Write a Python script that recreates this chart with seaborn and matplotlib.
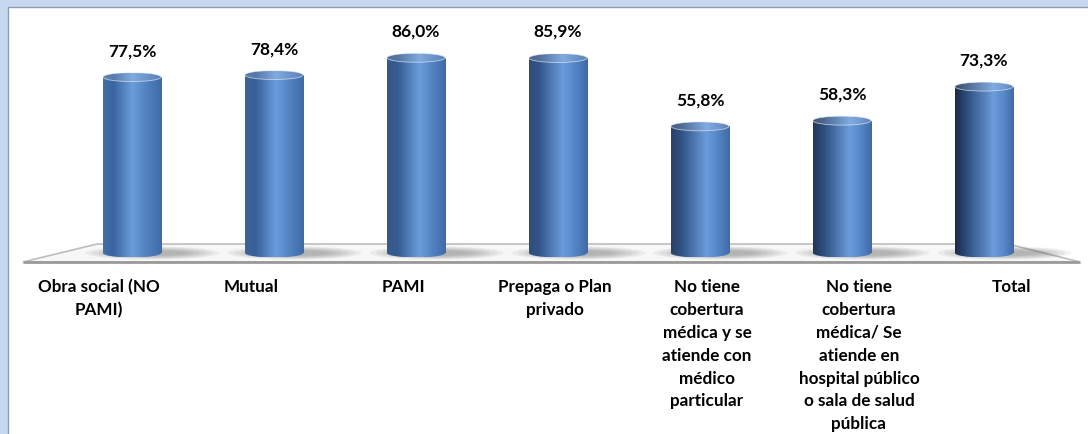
import numpy as np
import pandas as pd
import matplotlib
matplotlib.use("Agg")
import matplotlib.pyplot as plt
import seaborn as sns
from matplotlib.patches import Ellipse, Rectangle, Polygon
from matplotlib.colors import LinearSegmentedColormap, to_rgb

categories = [
    "Obra social (NO\nPAMI)",
    "Mutual",
    "PAMI",
    "Prepaga o Plan\nprivado",
    "No tiene\ncobertura\nmédica y se\natiende con\nmédico\nparticular",
    "No tiene\ncobertura\nmédica/ Se\natiende en\nhospital público\no sala de salud\npública",
    "Total",
]
values = [77.5, 78.4, 86.0, 85.9, 55.8, 58.3, 73.3]
value_labels = ["77,5%", "78,4%", "86,0%", "85,9%", "55,8%", "58,3%", "73,3%"]

sns.set_style("white")
plt.rcParams["font.family"] = ["Lato", "DejaVu Sans"]

W, H = 1088, 434
PX_UNIT = 142.0      # pixels per category slot
PY_UNIT = 2.27       # pixels per percentage point
X0, BASE = 132.0, 253.0

fig = plt.figure(figsize=(W / 100, H / 100), dpi=100)
fig.patch.set_facecolor("#c6d9f1")
fig.patches.append(Rectangle((8 / W, -0.1), 1.2, 1.1 - 7 / H, transform=fig.transFigure,
                             facecolor="white", edgecolor="#8d9db3", lw=1.0, zorder=-1))

ax = fig.add_axes([0, 0, 1, 1])
ax.set_facecolor("none")
ax.set_zorder(1)

df = pd.DataFrame({"cat": categories, "val": values})
sns.barplot(data=df, x="cat", y="val", width=0.41, color="#4f81bd", ax=ax, zorder=3)
bars = list(ax.patches)

def ax_frac(px, py):
    return (px / W, 1 - py / H)

# floor
floor_pts = [ax_frac(23, 262), ax_frac(97, 244), ax_frac(1008, 244), ax_frac(1080, 262)]
ax.add_patch(Polygon(floor_pts, closed=True, transform=ax.transAxes,
                     facecolor="#f7f7f7", edgecolor="#bdbdbd", lw=1.2, zorder=1))
ax.plot([23 / W, 1080 / W], [1 - 262 / H, 1 - 262 / H], transform=ax.transAxes,
        color="#9a9a9a", lw=2.0, zorder=1.5, solid_capstyle="butt")

eh = 9.0 / PY_UNIT
n = len(bars)
grad = np.linspace(0, 1, 256).reshape(1, -1)
for i, p in enumerate(bars):
    x0 = p.get_x(); w = p.get_width(); h = p.get_height(); xc = x0 + w / 2
    p.set_facecolor("none"); p.set_edgecolor("none")
    t = i / (n - 1)
    left = np.array(to_rgb("#446fa8")) * (1 - t) + np.array(to_rgb("#1b2b44")) * t
    hl = 0.50 + 0.15 * t
    stops = [(0.0, left), (0.18, np.array(to_rgb("#3a649f")) * (1 - t) + np.array(to_rgb("#2b4a78")) * t),
             (hl, to_rgb("#6b9cdb")), (min(hl + 0.2, 0.92), to_rgb("#5585c5")), (1.0, to_rgb("#3e6aa8"))]
    cmap = LinearSegmentedColormap.from_list(f"c{i}", stops)
    cap_stops = [(s, tuple(np.clip(np.array(c) * 0.85 + 0.15, 0, 1))) for s, c in stops]
    cap_cmap = LinearSegmentedColormap.from_list(f"k{i}", cap_stops)

    # shadow
    for k in range(6):
        sh = Ellipse((xc + w * 0.35, 0), w * (2.3 - 0.22 * k), (13 - 1.5 * k) / PY_UNIT,
                     facecolor="#404040", edgecolor="none", alpha=0.07, zorder=2)
        ax.add_patch(sh)

    im = ax.imshow(grad, cmap=cmap, extent=[x0, x0 + w, 0, h], aspect="auto", zorder=4,
                   interpolation="bilinear")
    im.set_clip_path(p)
    bot = Ellipse((xc, 0), w, eh, facecolor="none", edgecolor="none", zorder=4)
    ax.add_patch(bot)
    im2 = ax.imshow(grad, cmap=cmap, extent=[x0, x0 + w, -eh / 2, 0], aspect="auto", zorder=4,
                    interpolation="bilinear")
    im2.set_clip_path(bot)
    cap = Ellipse((xc, h), w, eh, facecolor="none", edgecolor="none", zorder=5)
    ax.add_patch(cap)
    im3 = ax.imshow(grad, cmap=cap_cmap, extent=[x0, x0 + w, h - eh / 2, h + eh / 2],
                    aspect="auto", zorder=5, interpolation="bilinear")
    im3.set_clip_path(cap)
    ax.add_patch(Ellipse((xc, h), w, eh, facecolor="none", edgecolor="#e6eef8", lw=0.6,
                         alpha=0.7, zorder=6))

    ax.annotate(value_labels[i], (xc, h), xytext=(0, 21), textcoords="offset pixels",
                ha="center", va="baseline", fontsize=12.5, fontweight="bold", color="black",
                zorder=7)

    lx = (555 + (i - 3) * 152 - X0) / PX_UNIT
    ly = (BASE - 279) / PY_UNIT
    ax.text(lx, ly, categories[i], ha="center", va="top", fontsize=12.3, fontweight="bold",
            color="black", linespacing=1.53, multialignment="center", zorder=7)

ax.set_xlim(-X0 / PX_UNIT, (W - X0) / PX_UNIT)
ax.set_ylim(-(H - BASE) / PY_UNIT, BASE / PY_UNIT)
ax.axis("off")

fig.savefig("out.png", dpi=100, facecolor=fig.get_facecolor())
